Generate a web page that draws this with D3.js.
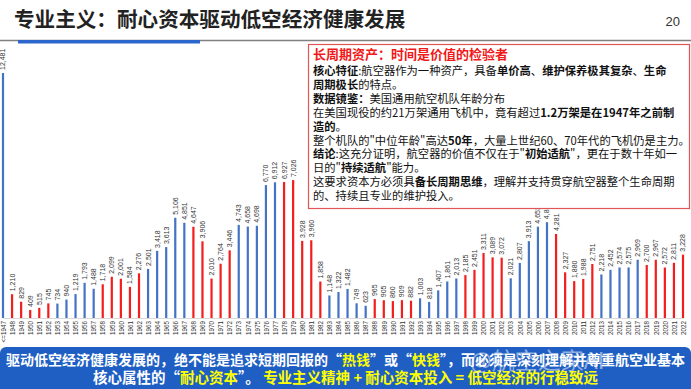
<!DOCTYPE html>
<html lang="zh">
<head>
<meta charset="UTF-8">
<title>专业主义：耐心资本驱动低空经济健康发展</title>
<script src="https://d3js.org/d3.v7.min.js"></script>
<style>
  body { margin: 0; background: #fff; }
  svg { display: block; }
</style>
</head>
<body>
<svg id="chart" width="691" height="389"></svg>
<script>
// years (first bar is "<=1947")
var years = d3.range(1947, 2023);
var counts = [
  12481, 1210, 829, 409, 515, 745, 734, 940, 1219, 1793,
  1488, 1718, 2099, 2001, 1584, 2276, 2501, 3418, 3613, 5106,
  4851, 4647, 3906, 2010, 2764, 3446, 4743, 4658, 4698, 6770,
  6912, 6927, 7026, 3928, 3960, 1858, 1148, 1322, 1482, 749,
  623, 965, 905, 860, 909, 882, 1003, 818, 1407, 1861,
  2013, 2185, 2451, 3311, 3089, 3072, 2021, 2807, 3913, 4653,
  4880, 4281, 2327, 1880, 1988, 2751, 2218, 2452, 2574, 2575,
  2969, 2700, 2967, 2572, 2811, 3228
];
var firstLabel = "<=1947";

var boxTitle = "长周期资产：时间是价值的检验者";
var boxLines = [
  [["核心特征", 1], [":航空器作为一种资产，具备", 0], ["单价高", 1], ["、", 0], ["维护保养极其复杂", 1], ["、", 0], ["生命", 1]],
  [["周期极长", 1], ["的特点。", 0]],
  [["数据镜鉴：", 1], ["美国通用航空机队年龄分布", 0]],
  [["在美国现役的约21万架通用飞机中，竟有超过", 0], ["1.2万架是在1947年之前制", 1]],
  [["造的", 1], ["。", 0]],
  [["整个机队的\"中位年龄\"高达", 0], ["50年", 1], ["，大量上世纪60、70年代的飞机仍是主力。", 0]],
  [["结论", 1], [":这充分证明，航空器的价值不仅在于\"", 0], ["初始适航", 1], ["\"，更在于数十年如一", 0]],
  [["日的\"", 0], ["持续适航", 1], ["\"能力。", 0]],
  [["这要求资本方必须具", 0], ["备长周期思维", 1], ["，理解并支持贯穿航空器整个生命周期", 0]],
  [["的、持续且专业的维护投入。", 0]]
];

var bannerLines = [
  [["驱动低空经济健康发展的，绝不能是追求短期回报的“", 0], ["热钱", 1], ["”或“", 0], ["快钱", 1], ["”，而必须是深刻理解并尊重航空业基本", 0]],
  [["核心属性的“", 0], ["耐心资本", 1], ["”。 ", 0], ["专业主义精神 + 耐心资本投入 = 低空经济的行稳致远", 1]]
];
var bannerSizes = [14, 14.5];

var svg = d3.select("#chart");
var cjk = "'Noto Sans CJK SC', 'Noto Sans', sans-serif";
var num = "'Liberation Sans', Arial, sans-serif";
var blue = "#4472c4", red = "#f21d1d";

svg.append("rect").attr("width", 691).attr("height", 389).attr("fill", "#fff");

// header
svg.append("text")
  .attr("x", 14).attr("y", 27)
  .attr("font-family", cjk).attr("font-size", "20.6px").attr("font-weight", "bold")
  .attr("fill", "#222")
  .text("专业主义：耐心资本驱动低空经济健康发展");
svg.append("text")
  .attr("x", 680).attr("y", 26).attr("text-anchor", "end")
  .attr("font-family", num).attr("font-size", "13px").attr("fill", "#333")
  .text("20");
svg.append("line")
  .attr("x1", 0).attr("x2", 691).attr("y1", 40.5).attr("y2", 40.5)
  .attr("stroke", "#808080").attr("stroke-width", 1.5);
svg.append("rect")
  .attr("x", 18).attr("y", 40).attr("width", 182).attr("height", 3.5)
  .attr("fill", "#2a66cc");

// chart scales
var x = d3.scalePoint().domain(years).range([3, 683]);
var y = d3.scaleLinear().domain([0, d3.max(counts)]).range([318, 73]);

var data = years.map(function(yr, i) { return { year: yr, n: counts[i] }; });
function colorOf(yr) {
  var k = yr % 10;
  return (k >= 3 && k <= 7) ? blue : red;
}

var g = svg.append("g");

// x axis
var xAxis = g.append("g")
  .attr("transform", "translate(0,318)")
  .call(d3.axisBottom(x).tickSize(0).tickFormat(function(d) {
    return d === 1947 ? firstLabel : d;
  }));
xAxis.select(".domain").attr("stroke", "#d9d9d9");
xAxis.selectAll("text")
  .attr("font-family", num).attr("font-size", "6.3px").attr("fill", "#333")
  .attr("x", -3).attr("y", 0).attr("dy", "0.35em")
  .attr("transform", "rotate(-90)")
  .style("text-anchor", "end");

// bars
g.selectAll(".bar")
  .data(data)
  .enter()
  .append("rect")
  .attr("class", "bar")
  .attr("x", function(d) { return x(d.year) - 1.1; })
  .attr("y", function(d) { return y(d.n); })
  .attr("width", 2.2)
  .attr("height", function(d) { return y(0) - y(d.n); })
  .attr("fill", function(d) { return colorOf(d.year); });

// value labels
g.selectAll(".lbl")
  .data(data)
  .enter()
  .append("text")
  .attr("class", "lbl")
  .attr("transform", function(d) {
    return "translate(" + x(d.year) + "," + (y(d.n) - 3) + ") rotate(-90)";
  })
  .attr("dy", "0.35em")
  .attr("font-family", num).attr("font-size", "7px").attr("fill", "#333")
  .text(function(d) { return d3.format(",")(d.n); });

// text box
svg.append("rect")
  .attr("x", 308.5).attr("y", 44.5).attr("width", 381).attr("height", 164)
  .attr("fill", "#fff").attr("stroke", "#e05555").attr("stroke-width", 1.2);
svg.append("text")
  .attr("x", 313).attr("y", 59)
  .attr("font-family", cjk).attr("font-size", "13px").attr("font-weight", "bold")
  .attr("fill", "#f01818")
  .text(boxTitle);

boxLines.forEach(function(line, i) {
  var t = svg.append("text")
    .attr("x", 313).attr("y", 75 + i * 13.9)
    .attr("font-family", cjk).attr("font-size", "11.3px").attr("fill", "#111");
  line.forEach(function(seg) {
    t.append("tspan")
      .attr("font-weight", seg[1] ? "bold" : "normal")
      .text(seg[0]);
  });
});

// bottom banner
svg.append("rect")
  .attr("x", 0).attr("y", 347).attr("width", 691).attr("height", 50)
  .attr("rx", 6).attr("fill", "#1f5fc3");
bannerLines.forEach(function(line, i) {
  var t = svg.append("text")
    .attr("x", 345.5).attr("y", 365 + i * 18)
    .attr("text-anchor", "middle")
    .attr("font-family", cjk).attr("font-size", bannerSizes[i] + "px").attr("font-weight", "bold");
  line.forEach(function(seg) {
    t.append("tspan")
      .attr("fill", seg[1] ? "#ffff00" : "#fff")
      .text(seg[0]);
  });
});
svg.append("text")
  .attr("x", 470).attr("y", 369)
  .attr("font-family", cjk).attr("font-size", "23px")
  .attr("fill", "#fff").attr("fill-opacity", 0.5)
  .text("@航空之家AI");
</script>
</body>
</html>
